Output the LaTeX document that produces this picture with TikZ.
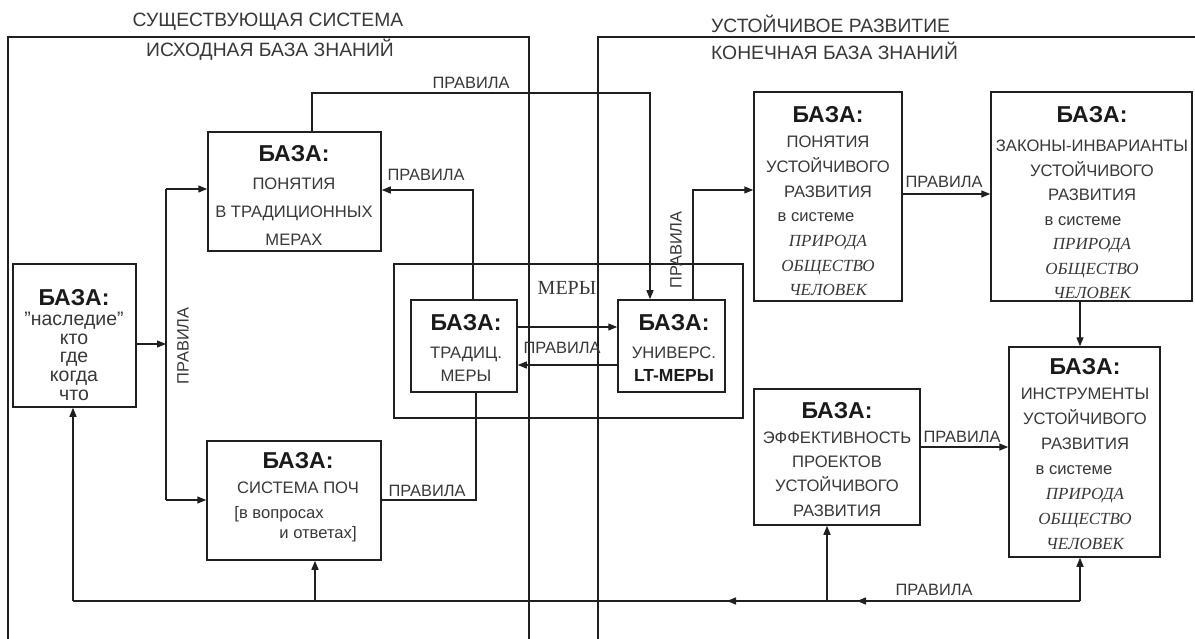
\documentclass[tikz,border=0pt]{standalone}
\usepackage{fontspec}
\setmainfont{Liberation Sans}
\newfontfamily\tnr{Liberation Serif}
\usetikzlibrary{arrows.meta}
\definecolor{ln}{HTML}{202020}
\definecolor{tx}{HTML}{383838}
\definecolor{tb}{HTML}{1A1A1A}
\newcommand{\baza}{{\fontsize{23}{24}\selectfont\bfseries\color{tb}БАЗА:}}
\newcommand{\ital}[1]{{\tnr\itshape\fontsize{17}{\baselineskip}\selectfont #1}}
\tikzset{
  box/.style={draw=ln, line width=1.5pt, inner sep=0pt},
  conn/.style={draw=ln, line width=1.4pt},
  arr/.style={conn, -{Triangle[length=9pt,width=7pt]}},
  txt/.style={text=tx, align=center, inner sep=0pt},
  lbl/.style={text=tx, inner sep=0pt, font=\fontsize{16.4}{18}\selectfont},
  hdr/.style={text=tx, inner sep=0pt, font=\fontsize{19.3}{20}\selectfont},
}
\begin{document}
\begin{tikzpicture}[x=1pt,y=-1pt]
\useasboundingbox (0,0) rectangle (1195,639);
\fill[white] (0,0) rectangle (1195,639);

% frames
\draw[conn] (8,639) -- (8,37) -- (529,37) -- (529,639);
\draw[conn] (598,639) -- (598,37) -- (1195,37);

% headers
\node[hdr] (h1) at (268,22) {СУЩЕСТВУЮЩАЯ СИСТЕМА};
\node[hdr] (h2) at (270,50) {ИСХОДНАЯ БАЗА ЗНАНИЙ};
\node[hdr,anchor=west] (h3) at (711,24) {УСТОЙЧИВОЕ РАЗВИТИЕ};
\node[hdr,anchor=west] (h4) at (711,51) {КОНЕЧНАЯ БАЗА ЗНАНИЙ};

% boxes
\node[box, minimum width=123pt, minimum height=143pt] (A) at (74.5,335.5) {};
\node[box, minimum width=173pt, minimum height=119pt] (B) at (294.5,191.5) {};
\node[box, minimum width=174pt, minimum height=119pt] (C) at (294,500.5) {};
\node[box, minimum width=349pt, minimum height=154pt] (M) at (568.5,341) {};
\node[box, minimum width=106pt, minimum height=92pt] (D) at (464,346) {};
\node[box, minimum width=107pt, minimum height=92pt] (E) at (671.5,346) {};
\node[box, minimum width=148pt, minimum height=209pt] (F) at (828,196.5) {};
\node[box, minimum width=201pt, minimum height=209pt] (G) at (1091.5,196.5) {};
\node[box, minimum width=151pt, minimum height=210pt] (H) at (1084.5,452) {};
\node[box, minimum width=166pt, minimum height=136pt] (I) at (837,457) {};

% box texts
\node[txt, font=\fontsize{19.5}{18.7}\selectfont] (At) at (74,345)
  {\baza\\[1pt] "наследие"\\ кто\\ где\\ когда\\ что};
\node[txt, font=\fontsize{16.6}{28}\selectfont] (Bt) at (294,195)
  {\baza\\ ПОНЯТИЯ\\ В ТРАДИЦИОННЫХ\\ МЕРАХ};
\node[txt, font=\fontsize{16.6}{25}\selectfont] (Ct) at (298,497.5)
  {\baza\\ СИСТЕМА ПОЧ\\ {[}в вопросах\rule{38pt}{0pt}\\[-5pt] \rule{40pt}{0pt}и ответах{]}};
\node[txt, font=\fontsize{16.6}{25}\selectfont] (Dt) at (466,347.5)
  {\baza\\[3pt] ТРАДИЦ.\\[-2pt] МЕРЫ};
\node[txt, font=\fontsize{16.6}{25}\selectfont] (Et) at (674,347.5)
  {\baza\\[3pt] УНИВЕРС.\\[-2pt] {\fontsize{17.5}{25}\selectfont\bfseries\color{tb}LT-МЕРЫ}};
\node[txt, font=\fontsize{16.6}{24.7}\selectfont] (Ft) at (828,201.5)
  {\baza\\ ПОНЯТИЯ\\ УСТОЙЧИВОГО\\ РАЗВИТИЯ\\ в системе\rule{24pt}{0pt}\\
   \ital{ПРИРОДА}\\ \ital{ОБЩЕСТВО}\\ \ital{ЧЕЛОВЕК}};
\node[txt, font=\fontsize{16.6}{24.5}\selectfont] (Gt) at (1092,202.5)
  {\baza\\[5pt] ЗАКОНЫ-ИНВАРИАНТЫ\\ УСТОЙЧИВОГО\\ РАЗВИТИЯ\\ в системе\rule{18pt}{0pt}\\
   \ital{ПРИРОДА}\\ \ital{ОБЩЕСТВО}\\ \ital{ЧЕЛОВЕК}};
\node[txt, font=\fontsize{16.6}{24.9}\selectfont] (Ht) at (1085,454)
  {\baza\\ ИНСТРУМЕНТЫ\\ УСТОЙЧИВОГО\\ РАЗВИТИЯ\\ в системе\rule{22pt}{0pt}\\
   \ital{ПРИРОДА}\\ \ital{ОБЩЕСТВО}\\ \ital{ЧЕЛОВЕК}};
\node[txt, font=\fontsize{16.6}{24.3}\selectfont] (It) at (837,459.5)
  {\baza\\ ЭФФЕКТИВНОСТЬ\\ ПРОЕКТОВ\\ УСТОЙЧИВОГО\\ РАЗВИТИЯ};

% МЕРЫ label
\node[text=tx, inner sep=0pt, font=\tnr\fontsize{20}{22}\selectfont] (Ml) at (567,288) {МЕРЫ};

% connectors
\coordinate (jA) at (166,344);
\coordinate (jB) at (166,189);
\coordinate (jC) at (166,500);
\draw[arr] (A.east |- jA) -- (jA);
\draw[conn] (jB) -- (jC);
\draw[arr] (jB) -- (B.west |- jB);
\draw[arr] (jC) -- (C.west |- jC);

\coordinate (t1) at (312,93);
\coordinate (t2) at (650,93);
\draw[arr] (t1 |- B.north) -- (t1) -- (t2) -- (t2 |- E.north);

\coordinate (d1) at (473,190);
\draw[arr] (d1 |- D.north) -- (d1) -- (B.east |- d1);

\coordinate (de1) at (0,327);
\coordinate (de2) at (0,365);
\draw[arr] (D.east |- de1) -- (E.west |- de1);
\draw[arr] (E.west |- de2) -- (D.east |- de2);

\coordinate (d2) at (476,500);
\draw[conn] (d2 |- D.south) -- (d2) -- (C.east |- d2);

\coordinate (e1) at (693,190);
\draw[arr] (e1 |- E.north) -- (e1) -- (F.west |- e1);

\coordinate (fg) at (0,194);
\draw[arr] (F.east |- fg) -- (G.west |- fg);

\coordinate (gh) at (1080,0);
\draw[arr] (gh |- G.south) -- (gh |- H.north);

\coordinate (ih) at (0,447);
\draw[arr] (I.east |- ih) -- (H.west |- ih);

\coordinate (bH) at (1080,601);
\coordinate (bA) at (73,601);
\coordinate (bC) at (315,601);
\coordinate (bI) at (827,601);
\draw[conn] (bH) -- (bA);
\draw[arr] (bH) -- (bH |- H.south);
\draw[arr] (bA) -- (bA |- A.south);
\draw[arr] (bC) -- (bC |- C.south);
\draw[arr] (bI) -- (bI |- I.south);
\coordinate (r1) at (950,601);
\coordinate (r2) at (857,601);
\coordinate (r3) at (820,601);
\coordinate (r4) at (727,601);
\draw[arr] (r1) -- (r2);
\draw[arr] (r3) -- (r4);

% labels
\node[lbl] (L1) at (471,83) {ПРАВИЛА};
\node[lbl] (L2) at (426,175) {ПРАВИЛА};
\node[lbl, rotate=90] (L3) at (183,346) {ПРАВИЛА};
\node[lbl] (L4) at (562,348) {ПРАВИЛА};
\node[lbl] (L5) at (427,491) {ПРАВИЛА};
\node[lbl, rotate=90] (L6) at (676,250) {ПРАВИЛА};
\node[lbl] (L7) at (944,182) {ПРАВИЛА};
\node[lbl] (L8) at (962,437) {ПРАВИЛА};
\node[lbl] (L9) at (934,590) {ПРАВИЛА};
\end{tikzpicture}
\end{document}
